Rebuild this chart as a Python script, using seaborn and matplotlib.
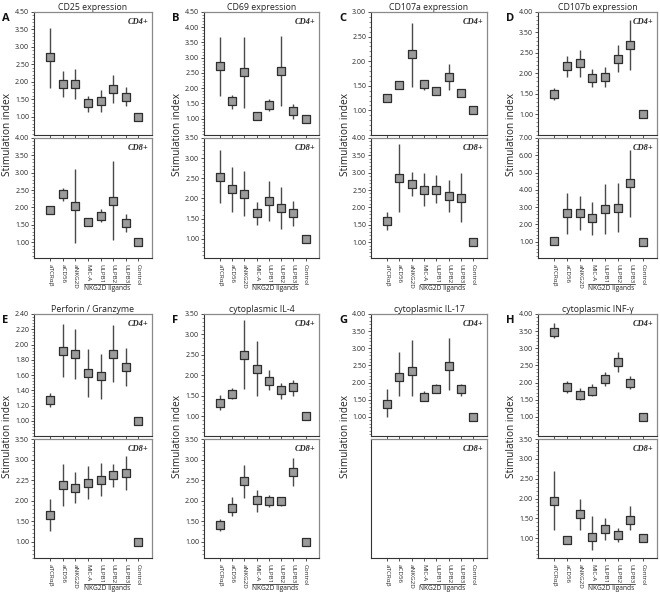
import matplotlib
matplotlib.use('Agg')
import matplotlib.pyplot as plt
import matplotlib.transforms as mtransforms
from matplotlib.ticker import AutoMinorLocator, FixedLocator, NullLocator
import seaborn as sns
import pandas as pd

sns.set_theme(style='white')
plt.rcParams['font.family'] = ['Open Sans', 'DejaVu Sans']

# ---------------- data ----------------
categories = ['aTCRαβ', 'aCD56', 'aNKG2D', 'MIC-A', 'ULPB1', 'ULPB2', 'ULPB3', 'Control']
titles = ['CD25 expression', 'CD69 expression', 'CD107a expression', 'CD107b expression',
          'Perforin / Granzyme', 'cytoplasmic IL-4', 'cytoplasmic IL-17', 'cytoplasmic INF-γ']
letters = ['A', 'B', 'C', 'D', 'E', 'F', 'G', 'H']
group_label = 'NKG2D ligands'

a_cd4_mean = [2.70, 1.94, 1.94, 1.39, 1.46, 1.79, 1.57, 1.00]
a_cd4_low = [1.83, 1.56, 1.51, 1.14, 1.14, 1.38, 1.29, 1.00]
a_cd4_high = [3.54, 2.31, 2.37, 1.60, 1.75, 2.20, 1.84, 1.00]
a_cd8_mean = [1.92, 2.38, 2.04, 1.59, 1.76, 2.17, 1.55, 1.00]
a_cd8_low = [1.84, 2.19, 0.97, 1.55, 1.57, 1.05, 1.28, 1.00]
a_cd8_high = [2.00, 2.56, 3.11, 1.63, 1.95, 3.33, 1.82, 1.00]

b_cd4_mean = [2.72, 1.58, 2.52, 1.08, 1.45, 2.57, 1.25, 1.00]
b_cd4_low = [1.74, 1.33, 1.36, 0.97, 1.25, 1.42, 1.00, 1.00]
b_cd4_high = [3.68, 1.78, 3.68, 1.18, 1.65, 3.72, 1.48, 1.00]
b_cd8_mean = [2.54, 2.23, 2.12, 1.63, 1.93, 1.77, 1.63, 1.00]
b_cd8_low = [1.89, 1.66, 1.56, 1.35, 1.43, 1.24, 1.31, 1.00]
b_cd8_high = [3.20, 2.79, 2.67, 1.91, 2.43, 2.29, 1.93, 1.00]

c_cd4_mean = [1.25, 1.51, 2.14, 1.53, 1.40, 1.68, 1.36, 1.00]
c_cd4_low = [1.21, 1.44, 1.48, 1.42, 1.36, 1.42, 1.32, 1.00]
c_cd4_high = [1.29, 1.59, 2.78, 1.62, 1.44, 1.95, 1.40, 1.00]
c_cd8_mean = [1.62, 2.85, 2.67, 2.51, 2.51, 2.34, 2.27, 1.00]
c_cd8_low = [1.34, 1.86, 2.32, 2.03, 2.13, 1.86, 1.58, 1.00]
c_cd8_high = [1.86, 3.84, 3.02, 2.99, 2.92, 2.80, 2.99, 1.00]

d_cd4_mean = [1.49, 2.17, 2.24, 1.89, 1.91, 2.36, 2.69, 1.00]
d_cd4_low = [1.35, 1.91, 1.91, 1.66, 1.66, 2.02, 2.09, 1.00]
d_cd4_high = [1.64, 2.43, 2.57, 2.11, 2.16, 2.69, 3.30, 1.00]
d_cd8_mean = [1.04, 2.67, 2.67, 2.35, 2.90, 2.96, 4.37, 1.00]
d_cd8_low = [1.00, 1.43, 1.69, 1.39, 1.43, 1.57, 2.41, 1.00]
d_cd8_high = [1.08, 3.84, 3.65, 3.29, 4.33, 4.37, 6.29, 1.00]

e_cd4_mean = [1.27, 1.92, 1.88, 1.63, 1.59, 1.88, 1.71, 1.00]
e_cd4_low = [1.18, 1.57, 1.55, 1.31, 1.28, 1.51, 1.45, 1.00]
e_cd4_high = [1.36, 2.27, 2.20, 1.94, 1.88, 2.25, 1.96, 1.00]
e_cd8_mean = [1.65, 2.38, 2.30, 2.42, 2.50, 2.63, 2.67, 1.00]
e_cd8_low = [1.26, 1.87, 1.93, 2.05, 2.12, 2.34, 2.26, 1.00]
e_cd8_high = [2.05, 2.88, 2.69, 2.83, 2.92, 2.90, 3.08, 1.00]

f_cd4_mean = [1.33, 1.55, 2.50, 2.16, 1.87, 1.63, 1.71, 1.00]
f_cd4_low = [1.14, 1.42, 1.67, 1.50, 1.63, 1.41, 1.50, 1.00]
f_cd4_high = [1.51, 1.69, 3.36, 2.83, 2.12, 1.80, 1.88, 1.00]
f_cd8_mean = [1.41, 1.83, 2.47, 2.02, 1.99, 1.99, 2.70, 1.00]
f_cd8_low = [1.27, 1.64, 2.06, 1.73, 1.85, 1.88, 2.35, 1.00]
f_cd8_high = [1.55, 2.08, 2.87, 2.26, 2.14, 2.10, 3.03, 1.00]

g_cd4_mean = [1.38, 2.15, 2.33, 1.58, 1.82, 2.48, 1.80, 1.00]
g_cd4_low = [1.00, 1.60, 1.60, 1.45, 1.70, 1.78, 1.60, 1.00]
g_cd4_high = [1.80, 2.90, 3.25, 1.75, 1.95, 3.30, 1.97, 1.00]
g_cd8_mean = []
g_cd8_low = []
g_cd8_high = []

h_cd4_mean = [3.47, 1.87, 1.65, 1.75, 2.10, 2.60, 2.00, 1.00]
h_cd4_low = [3.30, 1.70, 1.50, 1.60, 1.90, 2.30, 1.80, 1.00]
h_cd4_high = [3.75, 2.05, 1.85, 1.95, 2.30, 2.90, 2.20, 1.00]
h_cd8_mean = [1.93, 0.95, 1.60, 1.02, 1.22, 1.07, 1.47, 1.00]
h_cd8_low = [1.20, 0.85, 1.20, 0.70, 0.95, 0.90, 1.20, 1.00]
h_cd8_high = [2.70, 1.05, 2.00, 1.55, 1.50, 1.25, 1.80, 1.00]

# y tick positions and printed labels (as printed in the source figure)
ticks_a4 = [1.0, 1.5, 2.0, 2.5, 3.0, 3.5, 4.0]
labels_a4 = ['1.00', '1.50', '2.00', '2.50', '3.00', '3.50', '4.50']
ticks_a8 = [1.0, 1.5, 2.0, 2.5, 3.0, 3.5, 4.0]
labels_a8 = ['1.00', '1.50', '2.00', '2.50', '3.00', '3.50', '4.00']
ticks_b4 = [1.0, 1.5, 2.0, 2.5, 3.0, 3.5, 4.0, 4.5]
labels_b4 = ['1.00', '1.50', '2.00', '2.50', '3.00', '3.50', '4.00', '4.50']
ticks_b8 = [1.0, 1.5, 2.0, 2.5, 3.0, 3.5]
labels_b8 = ['1.00', '1.50', '2.00', '2.50', '3.00', '3.50']
ticks_c4 = [1.0, 1.5, 2.0, 2.5, 3.0]
labels_c4 = ['1.00', '1.50', '2.00', '2.50', '3.00']
ticks_c8 = [1.0, 1.5, 2.0, 2.5, 3.0, 3.5, 4.0]
labels_c8 = ['1.00', '1.50', '2.00', '2.50', '3.00', '3.50', '4.00']
ticks_d4 = [1.0, 1.5, 2.0, 2.5, 3.0, 3.5]
labels_d4 = ['1.00', '1.50', '2.00', '2.50', '3.50', '4.00']
ticks_d8 = [1, 2, 3, 4, 5, 6, 7]
labels_d8 = ['1.00', '2.00', '3.00', '4.00', '5.00', '6.00', '7.00']
ticks_e4 = [1.0, 1.2, 1.4, 1.6, 1.8, 2.0, 2.2, 2.4]
labels_e4 = ['1.00', '1.20', '1.40', '1.60', '1.80', '2.00', '2.20', '2.40']
ticks_e8 = [1.0, 1.5, 2.0, 2.5, 3.0, 3.5]
labels_e8 = ['1.00', '1.50', '2.00', '2.25', '3.00', '3.50']
ticks_f4 = [1.0, 1.5, 2.0, 2.5, 3.0, 3.5]
labels_f4 = ['1.00', '1.50', '2.00', '2.50', '3.00', '3.50']
ticks_f8 = [1.0, 1.5, 2.0, 2.5, 3.0, 3.5]
labels_f8 = ['1.00', '1.50', '2.00', '2.50', '3.00', '3.50']
ticks_g4 = [1.0, 1.5, 2.0, 2.5, 3.0, 3.5, 4.0]
labels_g4 = ['1.00', '1.50', '2.00', '2.50', '3.00', '3.50', '4.00']
ticks_g8 = []
labels_g8 = []
ticks_h4 = [1.0, 1.5, 2.0, 2.5, 3.0, 3.5, 4.0]
labels_h4 = ['1.00', '1.50', '2.00', '2.50', '3.00', '3.50', '4.00']
ticks_h8 = [1.0, 1.5, 2.0, 2.5, 3.0, 3.5]
labels_h8 = ['1.00', '1.50', '2.00', '2.50', '3.00', '3.50']

panels = [
    ((a_cd4_mean, a_cd4_low, a_cd4_high, ticks_a4, labels_a4, (0.47, 4.0)),
     (a_cd8_mean, a_cd8_low, a_cd8_high, ticks_a8, labels_a8, (0.54, 4.0))),
    ((b_cd4_mean, b_cd4_low, b_cd4_high, ticks_b4, labels_b4, (0.46, 4.5)),
     (b_cd8_mean, b_cd8_low, b_cd8_high, ticks_b8, labels_b8, (0.52, 3.5))),
    ((c_cd4_mean, c_cd4_low, c_cd4_high, ticks_c4, labels_c4, (0.50, 3.0)),
     (c_cd8_mean, c_cd8_low, c_cd8_high, ticks_c8, labels_c8, (0.54, 4.0))),
    ((d_cd4_mean, d_cd4_low, d_cd4_high, ticks_d4, labels_d4, (0.49, 3.5)),
     (d_cd8_mean, d_cd8_low, d_cd8_high, ticks_d8, labels_d8, (0.06, 7.0))),
    ((e_cd4_mean, e_cd4_low, e_cd4_high, ticks_e4, labels_e4, (0.80, 2.4)),
     (e_cd8_mean, e_cd8_low, e_cd8_high, ticks_e8, labels_e8, (0.60, 3.5))),
    ((f_cd4_mean, f_cd4_low, f_cd4_high, ticks_f4, labels_f4, (0.51, 3.5)),
     (f_cd8_mean, f_cd8_low, f_cd8_high, ticks_f8, labels_f8, (0.61, 3.5))),
    ((g_cd4_mean, g_cd4_low, g_cd4_high, ticks_g4, labels_g4, (0.44, 4.0)),
     (g_cd8_mean, g_cd8_low, g_cd8_high, ticks_g8, labels_g8, (0.50, 3.5))),
    ((h_cd4_mean, h_cd4_low, h_cd4_high, ticks_h4, labels_h4, (0.44, 4.0)),
     (h_cd8_mean, h_cd8_low, h_cd8_high, ticks_h8, labels_h8, (0.50, 3.5))),
]

# ---------------- layout (pixels) ----------------
W, H = 660, 597
col_lr = [(34, 152), (204, 319), (371, 487), (538, 657)]
row_tb = [((12, 135), (138, 258)), ((314, 436), (439, 558))]

fig = plt.figure(figsize=(W / 100, H / 100), dpi=100)

def px_axes(l, r, t, b):
    return fig.add_axes([l / W, 1 - b / H, (r - l) / W, (b - t) / H])

MARK_FACE = '#9b9b9b'
MARK_EDGE = '#2e2e2e'
BAR = '#4a4a4a'
positions = list(range(len(categories)))

def style_axes(ax, ticks, labels, ylim, show_xlabels):
    ax.set_xlim(-1.3, 8.1)
    ax.set_ylim(*ylim)
    for s in ['top', 'right']:
        ax.spines[s].set_color('#8a8a8a')
        ax.spines[s].set_linewidth(0.9)
    for s in ['left', 'bottom']:
        ax.spines[s].set_color('#333333')
        ax.spines[s].set_linewidth(0.8)
    ax.yaxis.set_major_locator(FixedLocator(ticks))
    ax.set_yticklabels(labels)
    if ticks:
        ax.yaxis.set_minor_locator(AutoMinorLocator(5))
    else:
        ax.yaxis.set_minor_locator(NullLocator())
    ax.tick_params(axis='y', which='major', direction='out', length=2.5, width=0.6,
                   color='#333333', labelsize=5.0, pad=1, left=True)
    ax.tick_params(axis='y', which='minor', direction='out', length=1.3, width=0.4,
                   color='#333333', left=True)
    ax.set_xticks(positions)
    ax.tick_params(axis='x', which='major', direction='out', length=2.5, width=0.6,
                   color='#333333', bottom=True, labelsize=4.5, pad=1.5)
    if show_xlabels:
        ax.set_xticklabels(categories, rotation=-90, va='top', ha='center')
    else:
        ax.set_xticklabels([])
    ax.set_xlabel('')
    ax.set_ylabel('')
    ax.grid(False)

for idx, (top, bottom) in enumerate(panels):
    r, c = divmod(idx, 4)
    l, rr = col_lr[c]
    axes_pair = []
    for k, (spec, (t, b)) in enumerate(zip((top, bottom), row_tb[r])):
        mean, low, high, ticks, labels, ylim = spec
        ax = px_axes(l, rr, t, b)
        if mean:
            df = pd.DataFrame({'pos': positions[:len(mean)], 'mean': mean,
                               'low': low, 'high': high})
            ax.vlines(df['pos'], df['low'], df['high'], color=BAR, lw=1.0, zorder=2)
            sns.scatterplot(data=df, x='pos', y='mean', marker='s', s=26,
                            color=MARK_FACE, edgecolor=MARK_EDGE, linewidth=0.9,
                            ax=ax, zorder=3, legend=False)
        style_axes(ax, ticks, labels, ylim, show_xlabels=(k == 1))
        ax.text(0.97, 0.95, 'CD4+' if k == 0 else 'CD8+', transform=ax.transAxes,
                ha='right', va='top', fontsize=6, fontweight='bold', fontstyle='italic',
                family=['Liberation Serif', 'DejaVu Serif'])
        axes_pair.append(ax)
    top_ax, bot_ax = axes_pair
    top_ax.set_title(titles[idx], fontsize=6.3, pad=1.5, color='#222222')
    t0 = row_tb[r][0][0]
    b1 = row_tb[r][1][1]
    fig.text((l - 32) / W, 1 - (t0 + 1) / H, letters[idx], ha='left', va='top',
             fontsize=8, fontweight='bold', color='#111111')
    fig.text((l - 26) / W, 1 - ((t0 + b1) / 2) / H, 'Stimulation index', rotation=90,
             ha='center', va='center', fontsize=7.3, color='#222222')
    # NKG2D ligands group bracket under MIC-A .. ULPB3
    trans = mtransforms.blended_transform_factory(bot_ax.transData, fig.transFigure)
    yline = 1 - (b1 + 26) / H
    bot_ax.plot([2.65, 6.35], [yline, yline], color='#333333', lw=0.6,
                transform=trans, clip_on=False)
    bot_ax.text(4.5, yline - 1.5 / H, group_label, transform=trans, ha='center',
                va='top', fontsize=4.8, color='#222222')

fig.savefig('out.png', dpi=100, facecolor='white')
